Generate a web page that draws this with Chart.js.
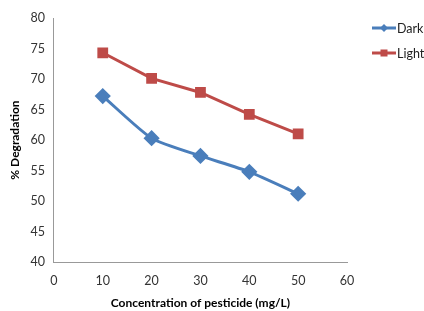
<!DOCTYPE html>
<html><head><meta charset="utf-8">
<script src="https://cdn.jsdelivr.net/npm/chart.js@4"></script>
<style>
html,body{margin:0;padding:0;background:#fff;overflow:hidden;}
#wrap{position:relative;width:424px;height:311px;overflow:hidden;}
#legend{position:absolute;left:372px;top:20px;font-family:'Liberation Sans Narrow',Lato,sans-serif;font-size:12.5px;color:#222;}
.li{display:flex;align-items:center;height:16px;margin-bottom:9px;}
.li svg{margin-right:1px;}
</style></head>
<body>
<div id="wrap"><canvas id="c" width="424" height="313"></canvas>
<div id="legend"></div></div>
<script>
const concentrations = [10, 20, 30, 40, 50];
const darkValues = [67.2, 60.3, 57.4, 54.8, 51.2];
const lightValues = [74.3, 70.1, 67.8, 64.2, 61.0];
const seriesNames = ['Dark', 'Light'];
const xTicks = [0, 10, 20, 30, 40, 50, 60];
const yTicks = [40, 45, 50, 55, 60, 65, 70, 75, 80];

const blue = '#4a7ebb', red = '#be4b48';
const font = "Lato, 'Open Sans', sans-serif";

const lg = document.getElementById('legend');
[[seriesNames[0], blue, 'd'], [seriesNames[1], red, 's']].forEach(([n, c, m]) => {
  const d = document.createElement('div'); d.className = 'li';
  const mk = m === 'd' ? `<polygon points="12,3 16,7 12,11 8,7" fill="${c}"/>` : `<rect x="8.5" y="3.5" width="7" height="7" fill="${c}"/>`;
  d.innerHTML = `<svg width="24" height="14"><line x1="0" y1="7" x2="24" y2="7" stroke="${c}" stroke-width="3"/>${mk}</svg><span>${n}</span>`;
  lg.appendChild(d);
});

new Chart(document.getElementById('c'), {
  type: 'line',
  data: {
    datasets: [
      { label: seriesNames[0], data: concentrations.map((x, i) => ({x, y: darkValues[i]})), borderColor: blue, backgroundColor: blue, borderWidth: 3, pointStyle: 'rectRot', pointRadius: 6, pointHoverRadius: 6, tension: 0.2 },
      { label: seriesNames[1], data: concentrations.map((x, i) => ({x, y: lightValues[i]})), borderColor: red, backgroundColor: red, borderWidth: 3, pointStyle: 'rect', pointRadius: 5.5, pointHoverRadius: 5.5, tension: 0 }
    ]
  },
  options: {
    responsive: false, animation: false,
    layout: { padding: { left: 4, right: 77, top: 18, bottom: 0 } },
    plugins: { legend: { display: false }, tooltip: { enabled: false } },
    scales: {
      x: {
        type: 'linear', min: 0, max: 60,
        afterBuildTicks: a => { a.ticks = xTicks.map(v => ({value: v})); },
        grid: { display: false, drawTicks: true, tickLength: 5, color: '#999' },
        border: { color: '#999' },
        ticks: { color: '#333', font: { family: font, size: 12.5, lineHeight: 1 }, padding: 8 },
        title: { display: true, text: 'Concentration of pesticide (mg/L)', color: '#000', font: { family: font, size: 12, weight: 'bold' }, padding: { top: 0, bottom: 3 } }
      },
      y: {
        min: 40, max: 80,
        afterBuildTicks: a => { a.ticks = yTicks.map(v => ({value: v})); },
        grid: { display: false, drawTicks: true, tickLength: 5, color: '#999' },
        border: { color: '#999' },
        ticks: { color: '#333', font: { family: font, size: 12.5 }, padding: 4 },
        title: { display: true, text: '% Degradation', color: '#000', font: { family: font, size: 12, weight: 'bold' }, padding: { bottom: 4 } }
      }
    }
  }
});
</script>
</body></html>
